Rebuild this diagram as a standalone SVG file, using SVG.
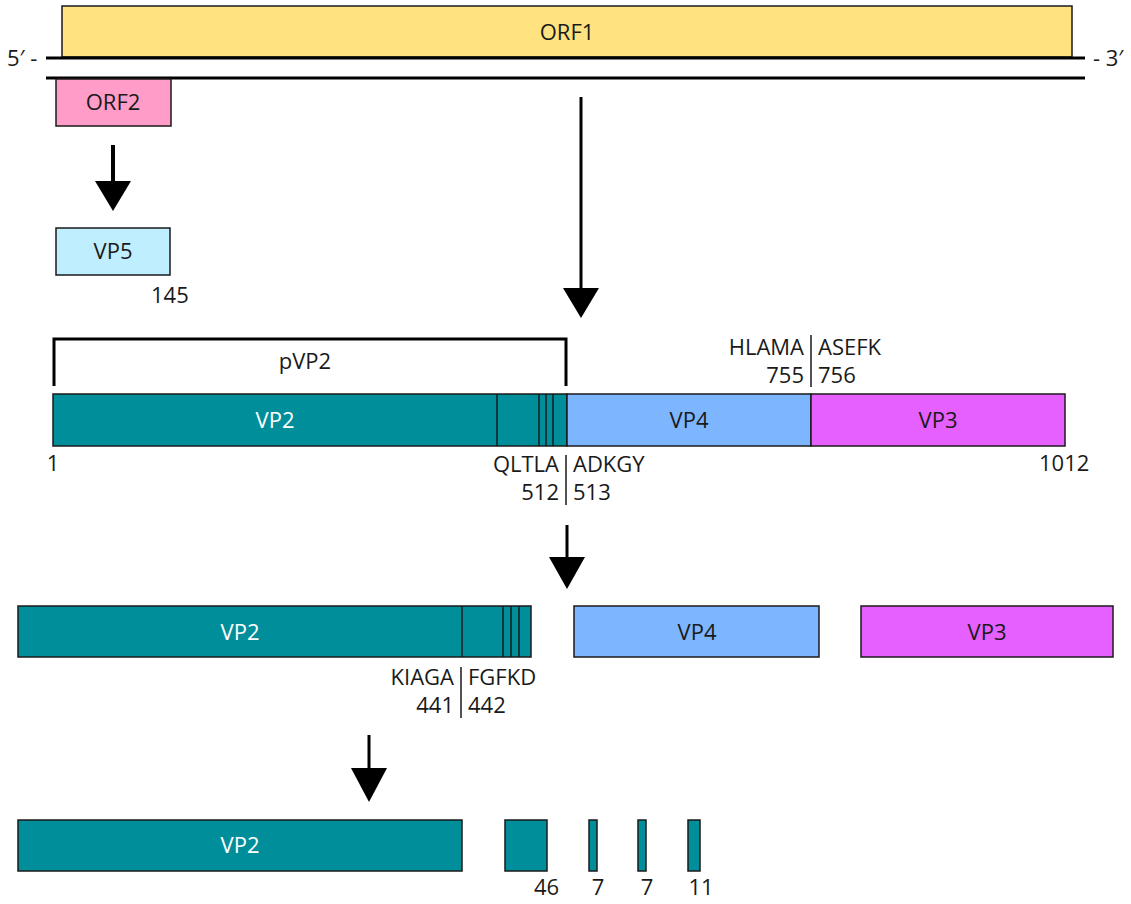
<svg xmlns="http://www.w3.org/2000/svg" width="1131" height="904" viewBox="0 0 1131 904">
<style>
text{font-family:"Open Sans","Liberation Sans",sans-serif;font-size:22px;fill:#1a1a1a}
.box{stroke:#1a1a1a;stroke-width:1.5}
.teal{fill:#008E9B}
.vp4{fill:#7DB6FF}
.vp3{fill:#E65FFF}
.w{fill:#ffffff}
.m{text-anchor:middle}
.e{text-anchor:end}
.thin{stroke:#1a1a1a;stroke-width:1.5}
.thick{stroke:#000;stroke-width:3;fill:none}
</style>
<g id="orf1">
<rect class="box" x="62" y="6" width="1010" height="51" fill="#FFE380"/>
<text class="m" x="567" y="40">ORF1</text>
</g>
<g id="strands">
<line class="thick" x1="46" y1="58" x2="1085" y2="58"/>
<line class="thick" x1="46" y1="78" x2="1085" y2="78"/>
<text x="7" y="66">5′ -</text>
<text x="1093" y="66">- 3′</text>
</g>
<g id="orf2">
<rect class="box" x="56" y="79" width="115" height="47" fill="#FF9CC8"/>
<text class="m" x="113" y="110">ORF2</text>
</g>
<g id="vp5">
<rect class="box" x="56" y="228" width="114" height="47" fill="#BFEEFF"/>
<text class="m" x="113" y="259">VP5</text>
<text x="151" y="303">145</text>
</g>
<g id="connectors">
<line x1="113" y1="145" x2="113" y2="184" stroke="#000" stroke-width="4"/>
<polygon points="95,181 131,181 113,211" fill="#000"/>
<line x1="581" y1="97" x2="581" y2="292" stroke="#000" stroke-width="3"/>
<polygon points="563,288 599,288 581,318" fill="#000"/>
<line x1="567" y1="525" x2="567" y2="561" stroke="#000" stroke-width="3"/>
<polygon points="549,557 585,557 567,589" fill="#000"/>
<line x1="369" y1="735" x2="369" y2="772" stroke="#000" stroke-width="3"/>
<polygon points="351,768 387,768 369,802" fill="#000"/>
</g>
<g id="pvp2">
<polyline class="thick" points="54,386 54,339 566,339 566,386"/>
<text class="m" x="305" y="369">pVP2</text>
</g>
<g id="polyprotein">
<rect class="box teal" x="53" y="394" width="514" height="52"/>
<line class="thin" x1="497" y1="394" x2="497" y2="446"/>
<line class="thin" x1="539" y1="394" x2="539" y2="446"/>
<line class="thin" x1="546" y1="394" x2="546" y2="446"/>
<line class="thin" x1="553" y1="394" x2="553" y2="446"/>
<text class="m w" x="275" y="428">VP2</text>
<rect class="box vp4" x="567" y="394" width="244" height="52"/>
<text class="m" x="689" y="428">VP4</text>
<rect class="box vp3" x="811" y="394" width="254" height="52"/>
<text class="m" x="938" y="428">VP3</text>
<text class="m" x="53" y="471">1</text>
<text x="1039" y="471">1012</text>
</g>
<g id="site-755">
<line class="thin" x1="811" y1="335" x2="811" y2="387"/>
<text class="e" x="804" y="355">HLAMA</text>
<text class="e" x="804" y="383">755</text>
<text x="818" y="355">ASEFK</text>
<text x="818" y="383">756</text>
</g>
<g id="site-512">
<line class="thin" x1="566" y1="455" x2="566" y2="505"/>
<text class="e" x="559" y="472">QLTLA</text>
<text class="e" x="559" y="500">512</text>
<text x="573" y="472">ADKGY</text>
<text x="573" y="500">513</text>
</g>
<g id="row3-vp2">
<rect class="box teal" x="18" y="606" width="513" height="51"/>
<line class="thin" x1="462" y1="606" x2="462" y2="657"/>
<line class="thin" x1="503" y1="606" x2="503" y2="657"/>
<line class="thin" x1="511" y1="606" x2="511" y2="657"/>
<line class="thin" x1="519" y1="606" x2="519" y2="657"/>
<text class="m w" x="240" y="640">VP2</text>
</g>
<g id="row3-vp4">
<rect class="box vp4" x="574" y="606" width="245" height="51"/>
<text class="m" x="697" y="640">VP4</text>
</g>
<g id="row3-vp3">
<rect class="box vp3" x="861" y="606" width="252" height="51"/>
<text class="m" x="987" y="640">VP3</text>
</g>
<g id="site-441">
<line class="thin" x1="461" y1="667" x2="461" y2="718"/>
<text class="e" x="454" y="685">KIAGA</text>
<text class="e" x="454" y="713">441</text>
<text x="468" y="685">FGFKD</text>
<text x="468" y="713">442</text>
</g>
<g id="row4">
<rect class="box teal" x="18" y="820" width="444" height="51"/>
<text class="m w" x="240" y="853">VP2</text>
<rect class="box teal" x="505" y="820" width="42" height="51"/>
<rect class="box teal" x="589" y="820" width="8" height="51"/>
<rect class="box teal" x="638" y="820" width="8" height="51"/>
<rect class="box teal" x="688" y="820" width="12" height="51"/>
<text x="534" y="895">46</text>
<text class="m" x="598" y="895">7</text>
<text class="m" x="647" y="895">7</text>
<text class="m" x="701" y="895">11</text>
</g>
</svg>
